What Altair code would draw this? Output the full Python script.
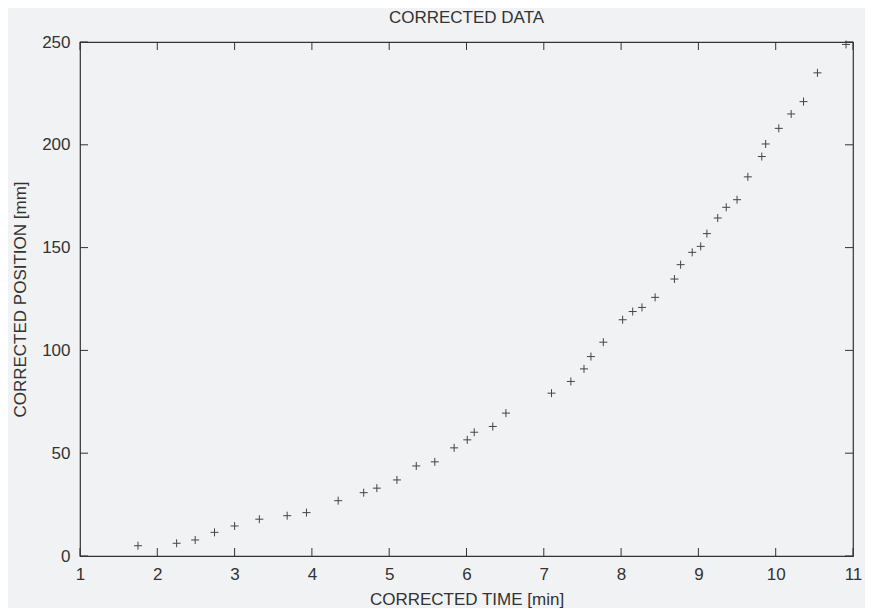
import altair as alt
import pandas as pd

time_min = [1.75, 2.25, 2.49, 2.74, 3.00, 3.32, 3.68, 3.93, 4.34, 4.67, 4.84, 5.10,
            5.35, 5.59, 5.84, 6.01, 6.10, 6.34, 6.51, 7.10, 7.35, 7.52, 7.61, 7.77,
            8.02, 8.15, 8.27, 8.44, 8.69, 8.77, 8.92, 9.03, 9.11, 9.25, 9.36, 9.50,
            9.64, 9.82, 9.87, 10.04, 10.20, 10.36, 10.54, 10.91]
position_mm = [5.0, 6.2, 7.8, 11.5, 14.6, 17.9, 19.6, 21.1, 26.9, 30.8, 33.0, 37.0,
               43.8, 45.8, 52.6, 56.5, 60.2, 63.0, 69.5, 79.2, 84.9, 91.0, 97.0, 104.0,
               114.9, 118.9, 120.9, 125.8, 134.7, 141.7, 147.7, 150.6, 156.8, 164.4, 169.6, 173.3,
               184.4, 194.3, 200.4, 208.0, 215.0, 221.0, 235.0, 248.8]
x_ticks = [1, 2, 3, 4, 5, 6, 7, 8, 9, 10, 11]
y_ticks = [0, 50, 100, 150, 200, 250]

W, H = 773, 514
TICK = 8
FONT = "Liberation Sans"
INK = "#333333"
FS = 17

df = pd.DataFrame({"t": time_min, "p": position_mm})
xt = pd.DataFrame({"v": x_ticks})
yt = pd.DataFrame({"v": y_ticks})

xscale = alt.Scale(domain=[1, 11], nice=False, zero=False)
yscale = alt.Scale(domain=[0, 250], nice=False, zero=False)

points = alt.Chart(df).mark_point(
    shape="M-1,0L1,0M0,-1L0,1", size=64, filled=False, stroke="#444444", strokeWidth=1, opacity=1
).encode(
    x=alt.X("t:Q", scale=xscale,
            axis=alt.Axis(title="CORRECTED TIME [min]", values=x_ticks, ticks=False, domain=False,
                          grid=False, labelPadding=10, titlePadding=9, labelFontSize=FS,
                          labelFlush=False, labelOverlap=False,
                          titleFontSize=FS, titleFontWeight="normal", labelColor=INK,
                          titleColor=INK, labelFont=FONT, titleFont=FONT, format="d")),
    y=alt.Y("p:Q", scale=yscale,
            axis=alt.Axis(title="CORRECTED POSITION [mm]", values=y_ticks, ticks=False, domain=False,
                          grid=False, labelPadding=10, titlePadding=12, labelFontSize=FS,
                          labelFlush=False, labelOverlap=False,
                          titleFontSize=FS, titleFontWeight="normal", labelColor=INK,
                          titleColor=INK, labelFont=FONT, titleFont=FONT, format="d")),
)

tick_style = dict(color="#333333", strokeWidth=1)
xb = alt.Chart(xt).mark_rule(**tick_style).encode(
    x=alt.X("v:Q", scale=xscale), y=alt.value(H), y2=alt.value(H - TICK))
xtop = alt.Chart(xt).mark_rule(**tick_style).encode(
    x=alt.X("v:Q", scale=xscale), y=alt.value(0), y2=alt.value(TICK))
yl = alt.Chart(yt).mark_rule(**tick_style).encode(
    y=alt.Y("v:Q", scale=yscale), x=alt.value(0), x2=alt.value(TICK))
yr = alt.Chart(yt).mark_rule(**tick_style).encode(
    y=alt.Y("v:Q", scale=yscale), x=alt.value(W), x2=alt.value(W - TICK))

chart = alt.layer(xb, xtop, yl, yr, points).properties(
    width=W, height=H,
    title=alt.TitleParams("CORRECTED DATA", fontSize=FS, fontWeight="normal", font=FONT,
                          color=INK, offset=6),
    background="#f1f2f4",
    autosize=alt.AutoSizeParams(type="none"),
    padding={"left": 72, "top": 34, "right": 12, "bottom": 52},
).configure_view(stroke="#333333", strokeWidth=1.2)

chart.save("out.html", embed_options={"renderer": "svg", "actions": False})
